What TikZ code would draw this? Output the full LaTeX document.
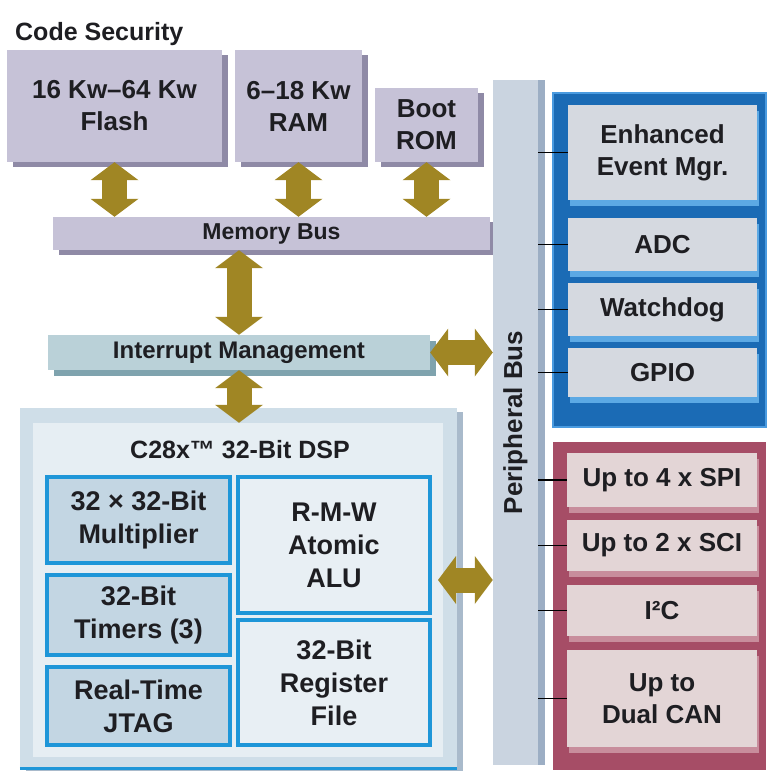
\documentclass[tikz,border=0pt]{standalone}
\usepackage{fontspec}
\setmainfont{Liberation Sans}
\usepackage{tikz}
\usetikzlibrary{arrows.meta}
\usetikzlibrary{shadows}

\definecolor{inkdark}{HTML}{1E1E22}
\definecolor{lavface}{HTML}{C6C2D7}
\definecolor{lavshade}{HTML}{8F8AA6}
\definecolor{busface}{HTML}{CAD4E0}
\definecolor{busshade}{HTML}{9CAEC4}
\definecolor{intface}{HTML}{BAD1D8}
\definecolor{intshade}{HTML}{7FA3AE}
\definecolor{gold}{HTML}{A08624}
\definecolor{dspface}{HTML}{CFDEE8}
\definecolor{dspshade}{HTML}{A9BACB}
\definecolor{dspcore}{HTML}{E6EEF3}
\definecolor{subblue}{HTML}{1E96D8}
\definecolor{subleft}{HTML}{C3D6E3}
\definecolor{subright}{HTML}{E8EFF4}
\definecolor{grpblue}{HTML}{1B6BB5}
\definecolor{grpblueedge}{HTML}{4A9BE0}
\definecolor{ctrlface}{HTML}{D5D9E0}
\definecolor{ctrlshade}{HTML}{5CA9E4}
\definecolor{grpred}{HTML}{A64D66}
\definecolor{commface}{HTML}{E3D5D6}
\definecolor{commshade}{HTML}{C88D9C}

\begin{document}
\begin{tikzpicture}[x=1pt,y=-1pt,
    txt/.style={font=\bfseries\fontsize{26}{32}\selectfont, text=inkdark, align=center},
    box/.style={txt, inner sep=0pt, anchor=center},
    membox/.style={box, fill=lavface, general shadow={fill=lavshade, shadow xshift=6pt, shadow yshift=-5pt}},
    intbox/.style={box, fill=intface, general shadow={fill=intshade, shadow xshift=6pt, shadow yshift=-6pt}},
    subbox/.style={box, draw=subblue, line width=3.5pt, font=\bfseries\fontsize{27}{33}\selectfont},
    ctrlbox/.style={box, fill=ctrlface, general shadow={fill=ctrlshade, shadow xshift=2pt, shadow yshift=-6pt}},
    commbox/.style={box, fill=commface, general shadow={fill=commshade, shadow xshift=2pt, shadow yshift=-6pt}},
    busarrow/.style={draw=gold, line width=25pt,
      >={Triangle[length=18pt,width=48pt,line width=0pt]}, <->},
    tick/.style={draw=black, line width=1.2pt}
  ]
  \useasboundingbox (0,0) rectangle (766,771);
  \fill[white] (0,0) rectangle (766,771);

  % memory side
  \node[txt, anchor=base west, inner sep=0pt, font=\bfseries\fontsize{25}{30}\selectfont] (codesec) at (15,40) {Code Security};
  \node[membox, minimum width=215pt, minimum height=112pt] (flash) at (114.5,106) {16 Kw–64 Kw\\Flash};
  \node[membox, minimum width=127pt, minimum height=112pt] (ram) at (298.5,106) {6–18 Kw\\RAM};
  \node[membox, minimum width=103pt, minimum height=74pt] (boot) at (426.5,125) {Boot\\ROM};
  \node[membox, minimum width=437pt, minimum height=33pt, font=\bfseries\fontsize{23}{28}\selectfont] (membus) at (271.5,233.5) {Memory Bus};
  \node[intbox, minimum width=382pt, minimum height=35pt, font=\bfseries\fontsize{24}{28}\selectfont] (intr) at (239,352.5) {Interrupt Management};

  % C28x core
  \node[box, fill=dspface, minimum width=437pt, minimum height=360pt,
        general shadow={fill=dspshade, shadow xshift=6pt, shadow yshift=-4pt}] (dsp) at (238.5,588) {};
  \draw[subblue, line width=3pt] (dsp.south west) -- (dsp.south east);
  \node[box, fill=dspcore, minimum width=410pt, minimum height=334pt] (dspcore) at (238,590) {};
  \node[txt, font=\bfseries\fontsize{25}{30}\selectfont] (dsptitle) at (240,450) {C28x™ 32-Bit DSP};
  \node[subbox, fill=subleft, minimum width=183pt, minimum height=86pt] (mult) at (138.5,520) {32 × 32-Bit\\Multiplier};
  \node[subbox, fill=subleft, minimum width=183pt, minimum height=80pt] (timers) at (138.5,615) {32-Bit\\Timers (3)};
  \node[subbox, fill=subleft, minimum width=183pt, minimum height=78pt] (jtag) at (138.5,706) {Real-Time\\JTAG};
  \node[subbox, fill=subright, minimum width=192pt, minimum height=136pt] (alu) at (334,545) {R-M-W\\Atomic\\ALU};
  \node[subbox, fill=subright, minimum width=192pt, minimum height=125pt] (regfile) at (334,682.5) {32-Bit\\Register\\File};
  \coordinate (dspport) at (438,580);

  % peripheral bus
  \node[box, fill=busface, minimum width=45pt, minimum height=685pt,
        general shadow={fill=busshade, shadow xshift=7pt, shadow yshift=0pt},
        label={[txt, rotate=90]center:Peripheral Bus}] (pbus) at (515.5,422.5) {};

  % control peripherals
  \node[box, fill=grpblue, draw=grpblueedge, line width=2pt, minimum width=213pt, minimum height=334pt] (ctrlgrp) at (659.5,260) {};
  \node[ctrlbox, minimum width=189pt, minimum height=95pt] (eem) at (662.5,152.5) {Enhanced\\Event Mgr.};
  \node[ctrlbox, minimum width=189pt, minimum height=53pt] (adc) at (662.5,244.5) {ADC};
  \node[ctrlbox, minimum width=189pt, minimum height=53pt] (wdog) at (662.5,309.5) {Watchdog};
  \node[ctrlbox, minimum width=189pt, minimum height=49pt] (gpio) at (662.5,372.5) {GPIO};

  % communication peripherals
  \node[box, fill=grpred, minimum width=213pt, minimum height=328pt] (commgrp) at (659.5,606) {};
  \node[commbox, minimum width=190pt, minimum height=54pt] (spi) at (662,480) {Up to 4 x SPI};
  \node[commbox, minimum width=190pt, minimum height=51pt] (sci) at (662,545.5) {Up to 2 x SCI};
  \node[commbox, minimum width=190pt, minimum height=51pt] (iic) at (662,610.5) {I²C};
  \node[commbox, minimum width=190pt, minimum height=97pt] (can) at (662,698.5) {Up to\\Dual CAN};

  % bus taps
  \foreach \p in {eem,adc,wdog,gpio,spi,sci,iic,can}
    \draw[tick] (pbus.east |- \p.west) -- (\p.west);

  % data paths
  \draw[busarrow] (flash.south) -- (flash.south |- membus.north);
  \draw[busarrow] (ram.south) -- (ram.south |- membus.north);
  \draw[busarrow] (boot.south) -- (boot.south |- membus.north);
  \draw[busarrow] (intr.north |- membus.south) -- (intr.north);
  \draw[busarrow] (intr.south) -- (intr.south |- dspcore.north);
  \draw[busarrow] (intr.east) -- (intr.east -| pbus.west);
  \draw[busarrow] (dspport) -- (dspport -| pbus.west);
\end{tikzpicture}
\end{document}
